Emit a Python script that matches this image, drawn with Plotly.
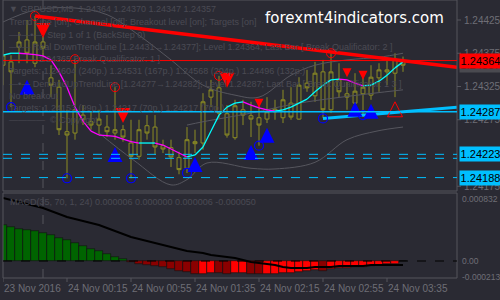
import plotly.graph_objects as go

# ---------------- data ----------------
idx = list(range(-1, 50))
opens = [1.24357, 1.24362, 1.24384, 1.24395, 1.24360, 1.24392, 1.24338, 1.24324, 1.24257, 1.24255,
         1.24282, 1.24272, 1.24267, 1.24264, 1.24255, 1.24260, 1.24240, 1.24220, 1.24266, 1.24264,
         1.24236, 1.24233, 1.24218, 1.24202, 1.24242, 1.24240, 1.24309, 1.24323, 1.24284, 1.24248,
         1.24290, 1.24281, 1.24278, 1.24276, 1.24287, 1.24278, 1.24300, 1.24276, 1.24330, 1.24311,
         1.24347, 1.24290, 1.24335, 1.24314, 1.24300, 1.24314, 1.24312, 1.24338, 1.24350, 1.24345, 1.24364]
closes = [1.24372, 1.24347, 1.24392, 1.24375, 1.24392, 1.24383, 1.24327, 1.24260, 1.24252, 1.24290,
          1.24275, 1.24267, 1.24276, 1.24257, 1.24260, 1.24249, 1.24220, 1.24260, 1.24255, 1.24234,
          1.24231, 1.24219, 1.24200, 1.24245, 1.24239, 1.24302, 1.24320, 1.24285, 1.24252, 1.24296,
          1.24282, 1.24276, 1.24267, 1.24287, 1.24291, 1.24305, 1.24279, 1.24327, 1.24323, 1.24345,
          1.24290, 1.24347, 1.24317, 1.24309, 1.24318, 1.24324, 1.24339, 1.24350, 1.24347, 1.24366, 1.24357]
highs = [1.24395, 1.24372, 1.24407, 1.24425, 1.24431, 1.24405, 1.24357, 1.24335, 1.24290, 1.24366,
         1.24297, 1.24287, 1.24290, 1.24282, 1.24324, 1.24267, 1.24275, 1.24275, 1.24282, 1.24282,
         1.24245, 1.24245, 1.24227, 1.24264, 1.24260, 1.24315, 1.24335, 1.24341, 1.24297, 1.24305,
         1.24305, 1.24302, 1.24300, 1.24309, 1.24305, 1.24320, 1.24324, 1.24339, 1.24350, 1.24362,
         1.24365, 1.24375, 1.24360, 1.24332, 1.24345, 1.24342, 1.24357, 1.24360, 1.24366, 1.24375, 1.24370]
lows = [1.24327, 1.24294, 1.24360, 1.24360, 1.24354, 1.24369, 1.24309, 1.24252, 1.24187, 1.24245,
        1.24267, 1.24260, 1.24252, 1.24249, 1.24245, 1.24242, 1.24187, 1.24215, 1.24245, 1.24222,
        1.24225, 1.24204, 1.24193, 1.24195, 1.24225, 1.24230, 1.24294, 1.24278, 1.24248, 1.24245,
        1.24267, 1.24249, 1.24236, 1.24270, 1.24275, 1.24270, 1.24275, 1.24275, 1.24317, 1.24302,
        1.24278, 1.24285, 1.24309, 1.24290, 1.24293, 1.24279, 1.24305, 1.24317, 1.24327, 1.24309, 1.24347]

ma = [1.24372, 1.24375, 1.24375, 1.24374, 1.24373, 1.24371, 1.24365, 1.24347, 1.24324, 1.24294,
      1.24273, 1.24258, 1.24252, 1.24251, 1.24250, 1.24246, 1.24242, 1.24240, 1.24240, 1.24240,
      1.24237, 1.24231, 1.24225, 1.24219, 1.24222, 1.24234, 1.24258, 1.24282, 1.24294, 1.24300,
      1.24302, 1.24297, 1.24293, 1.24290, 1.24288, 1.24290, 1.24294, 1.24300, 1.24306, 1.24317,
      1.24327, 1.24335, 1.24336, 1.24335, 1.24330, 1.24326, 1.24327, 1.24333, 1.24342, 1.24353, 1.24362]

# gray envelope lines (index, price)
band_up_x = [-1, 3, 8, 12, 16, 20, 24, 28, 31, 35, 38, 42, 46, 49]
band_up_y = [1.24422, 1.24440, 1.24443, 1.24433, 1.24402, 1.24365, 1.24327, 1.24312, 1.24309, 1.24342,
             1.24357, 1.24365, 1.24369, 1.24375]
band_mid_x = [22, 24, 30, 36, 49]
band_mid_y = [1.24267, 1.24272, 1.24285, 1.24300, 1.24320]
band_lo_x = [11, 15.25, 20, 22, 24.5, 30, 33, 38, 42, 45.75, 49]
band_lo_y = [1.24255, 1.24215, 1.24177, 1.24185, 1.24210, 1.24202, 1.24201, 1.24211, 1.24245, 1.24258, 1.24264]

# signals (index, price)
hi_circle_x = [3, 8, 13, 26, 40]
hi_circle_y = [1.24431, 1.24366, 1.24324, 1.24341, 1.24375]
lo_circle_x = [0, 7, 15, 22, 31, 39, 44]
lo_circle_y = [1.24294, 1.24187, 1.24187, 1.24195, 1.24236, 1.24277, 1.24282]
sell_x = [4, 14, 27]
sell_y = [1.24398, 1.24270, 1.24323]
sell_small_x = [31, 42, 44]
sell_small_y = [1.24293, 1.24339, 1.24335]
buy_x = [2, 13, 23, 30, 32, 43, 45]
buy_y = [1.24335, 1.24234, 1.24219, 1.24237, 1.24263, 1.24302, 1.24299]
buy_open_x = [48]
buy_open_y = [1.24302]

# trend lines through two pivots, extended right
down_tl = [(3, 1.24431), (40, 1.24377)]
up_tl = [(39, 1.24277), (44, 1.24282)]
level_red = 1.24364
level_blue = 1.24287
target_levels = [1.24223, 1.24217, 1.24188]
bid_price = 1.24357

price_ticks = [1.24425, 1.24375, 1.24325, 1.24275, 1.24175]

# MACD
hist = [0.000483, 0.000456, 0.000429, 0.000416, 0.000403, 0.000376, 0.000349, 0.000309, 0.000282, 0.000242,
        0.000201, 0.000161, 0.000134, 0.000094, 0.000054, 0.000027,
        -0.000020, -0.000035, -0.000055, -0.000070, -0.000085, -0.000105, -0.000130, -0.000150, -0.000172,
        -0.000168, -0.000160, -0.000164, -0.000170, -0.000165, -0.000160, -0.000172, -0.000180, -0.000175,
        -0.000170, -0.000160, -0.000155, -0.000145, -0.000135, -0.000122, -0.000128, -0.000110, -0.000100,
        -0.000090, -0.000080, -0.000075, -0.000065, -0.000055, -0.000045, -0.000035, 0.000006]
signal = [0.000845, 0.000819, 0.000792, 0.000765, 0.000738, 0.000711, 0.000671, 0.000631, 0.000590, 0.000564,
          0.000537, 0.000510, 0.000483, 0.000443, 0.000403, 0.000362, 0.000322, 0.000295, 0.000268, 0.000242,
          0.000215, 0.000188, 0.000161, 0.000134, 0.000121, 0.000107, 0.000081, 0.000067, 0.000054, 0.000040,
          0.000013, -0.000013, -0.000027, -0.000040, -0.000054, -0.000081, -0.000094, -0.000094, -0.000094,
          -0.000081, -0.000081, -0.000081, -0.000067, -0.000067, -0.000067, -0.000067, -0.000054, -0.000054,
          -0.000054, -0.000054, -0.000054]
macd_ticks = [0.000832, 0.0, -0.000213]
macd_tick_text = ['0.000832', '0.00', '-0.000213']

time_tick_idx = [-1, 7, 15, 23, 31, 39, 47]
time_tick_text = ['23 Nov 2016', '24 Nov 00:15', '24 Nov 00:55', '24 Nov 01:35',
                  '24 Nov 02:15', '24 Nov 02:55', '24 Nov 03:35']
day_sep_idx = 4

overlay_lines = [
    '▼ GBPUSD,M5  1.24364 1.24370 1.24347 1.24357',
    'Trend Line [on]; Channel [off]; Breakout level [on]; Targets [on]',
    '—•—•—  Step 1 of 1 (BackStep 0)',
    '—•— Real DownTrendLine [1.24431→1.24377]; Level 1.24364; Last Bar [ Break Qualificator: 2 ]',
    '——— 1.24365 Break Qualificator: 1 ]',
    'Targets: 1.24604 (240p.) 1.24531 (167p.) 1.24568 (204p.) 1.24496 (132p.)',
    '—•— DemandUpTrendLine [1.24277→1.24282]; Level 1.24287; Last Bar [ Break Qualificator: 1 3 ]',
    'No breakout',
    'Targets: 1.24153 (99p.) 1.24217 (70p.) 1.24217 (70p.)',
    '————  © Copyright',
]

# ---------------- style ----------------
W, H = 500, 300
BG = '#2a2a33'
OLIVE = '#8c8c24'
GRID = '#55555d'
TXT = '#6e6e76'
DIM = '#4a4a53'
CYAN = '#00bfff'
FONT = 'Liberation Sans'

X0, X1 = 3, 457
MAIN_T, MAIN_B = 0, 191
MACD_T, MACD_B = 193, 278
KMIN = -1
KMAX = KMIN + (X1 - X0) / 8.0
PMAX, PMIN = 1.24455075, 1.24167857
VMAX, VMIN = 0.00091275, -0.00022819

def px(x):
    return x / W

def py(y):
    return 1 - y / H

fig = go.Figure()

for bx, by in ((band_up_x, band_up_y), (band_mid_x, band_mid_y), (band_lo_x, band_lo_y)):
    fig.add_trace(go.Scatter(x=bx, y=by, mode='lines', line=dict(color='#56565e', width=1, shape='spline'),
                             xaxis='x', yaxis='y', hoverinfo='skip'))

fig.add_trace(go.Candlestick(x=idx, open=opens, high=highs, low=lows, close=closes,
                             increasing=dict(line=dict(color=OLIVE, width=1), fillcolor=BG),
                             decreasing=dict(line=dict(color=OLIVE, width=1), fillcolor=BG),
                             whiskerwidth=0, xaxis='x', yaxis='y', hoverinfo='skip'))

cx, cy, mx, my = [], [], [], []
for i in range(len(idx) - 1):
    seg_x = [idx[i], idx[i + 1], None]
    seg_y = [ma[i], ma[i + 1], None]
    if ma[i + 1] >= ma[i]:
        cx += seg_x; cy += seg_y
    else:
        mx += seg_x; my += seg_y
fig.add_trace(go.Scatter(x=mx, y=my, mode='lines', line=dict(color='#ff00ff', width=1.3), xaxis='x', yaxis='y'))
fig.add_trace(go.Scatter(x=cx, y=cy, mode='lines', line=dict(color='#00ffff', width=1.3), xaxis='x', yaxis='y'))

def extend(tl):
    (k0, p0), (k1, p1) = tl
    slope = (p1 - p0) / (k1 - k0)
    return [k0, KMAX], [p0, p0 + slope * (KMAX - k0)]

tx, ty = extend(down_tl)
fig.add_trace(go.Scatter(x=tx, y=ty, mode='lines', line=dict(color='#ff0000', width=3.5), xaxis='x', yaxis='y'))
tx, ty = extend(up_tl)
fig.add_trace(go.Scatter(x=tx, y=ty, mode='lines', line=dict(color=CYAN, width=3), xaxis='x', yaxis='y'))

fig.add_trace(go.Scatter(x=hi_circle_x, y=hi_circle_y, mode='markers',
                         marker=dict(symbol='circle-open', size=9, color='#ff0000', line=dict(width=1)),
                         xaxis='x', yaxis='y'))
fig.add_trace(go.Scatter(x=lo_circle_x, y=lo_circle_y, mode='markers',
                         marker=dict(symbol='circle-open', size=9, color='#0000ff', line=dict(width=1.2)),
                         xaxis='x', yaxis='y'))
fig.add_trace(go.Scatter(x=sell_x, y=sell_y, mode='markers',
                         marker=dict(symbol='arrow-down', size=15, color='#ff0000'), xaxis='x', yaxis='y'))
fig.add_trace(go.Scatter(x=sell_small_x, y=sell_small_y, mode='markers',
                         marker=dict(symbol='arrow-down', size=9, color='#ff0000'), xaxis='x', yaxis='y'))
fig.add_trace(go.Scatter(x=buy_x, y=buy_y, mode='markers',
                         marker=dict(symbol='arrow-up', size=15, color='#0000ff'), xaxis='x', yaxis='y'))
fig.add_trace(go.Scatter(x=buy_open_x, y=buy_open_y, mode='markers',
                         marker=dict(symbol='arrow-up-open', size=15, color='#ff0000', line=dict(width=1)),
                         xaxis='x', yaxis='y'))

cols = []
for i, v in enumerate(hist):
    prev = hist[i - 1] if i > 0 else v
    if v >= 0:
        cols.append('#00ff00' if v > prev else '#006400')
    else:
        cols.append('#ff0000' if v > prev else '#8b0000')
fig.add_trace(go.Bar(x=idx, y=hist, marker=dict(color=cols, line=dict(color='#111111', width=0.6)),
                     width=1.0, xaxis='x2', yaxis='y2'))
fig.add_trace(go.Scatter(x=idx, y=signal, mode='lines', line=dict(color='#000000', width=2),
                         xaxis='x2', yaxis='y2'))

shapes = []
shapes.append(dict(type='rect', xref='paper', yref='paper', x0=px(X0), x1=px(X1), y0=py(MAIN_B), y1=py(MAIN_T),
                   line=dict(color=GRID, width=1)))
shapes.append(dict(type='rect', xref='paper', yref='paper', x0=px(X0), x1=px(X1), y0=py(MACD_B), y1=py(MACD_T),
                   line=dict(color=GRID, width=1)))
shapes.append(dict(type='line', xref='x', yref='paper', x0=day_sep_idx, x1=day_sep_idx, y0=py(MACD_B), y1=py(MAIN_T),
                   line=dict(color='#55555d', width=1, dash='dash'), layer='below'))
shapes.append(dict(type='line', xref='paper', yref='y', x0=px(X0), x1=px(X1), y0=level_red, y1=level_red,
                   line=dict(color='#ff0000', width=1)))
shapes.append(dict(type='line', xref='paper', yref='y', x0=px(X0), x1=px(X1), y0=level_blue, y1=level_blue,
                   line=dict(color=CYAN, width=1.5)))
for lv in target_levels:
    shapes.append(dict(type='line', xref='paper', yref='y', x0=px(X0), x1=px(X1), y0=lv, y1=lv,
                       line=dict(color=CYAN, width=1, dash='dash')))
shapes.append(dict(type='line', xref='paper', yref='y2', x0=px(X0), x1=px(X1), y0=0, y1=0,
                   line=dict(color='#000000', width=1, dash='dash')))
for k in time_tick_idx:
    shapes.append(dict(type='line', xref='x2', yref='paper', x0=k, x1=k, y0=py(MACD_B), y1=py(MACD_B + 4),
                       line=dict(color=GRID, width=1)))
for p in price_ticks:
    shapes.append(dict(type='line', xref='paper', yref='y', x0=px(X1), x1=px(X1 + 4), y0=p, y1=p,
                       line=dict(color=GRID, width=1)))

ann = []
for p in price_ticks:
    ann.append(dict(xref='paper', yref='y', x=px(X1 + 5), y=p, text=f'{p:.5f}', showarrow=False,
                    xanchor='left', yanchor='middle', font=dict(family=FONT, size=10, color=TXT)))
for v, t in zip(macd_ticks, macd_tick_text):
    ann.append(dict(xref='paper', yref='y2', x=px(X1 + 3), y=v, text=t, showarrow=False,
                    xanchor='left', yanchor='middle', font=dict(family=FONT, size=8.5, color=TXT)))

def plabel(val, bg, fg='#000000'):
    return dict(xref='paper', yref='y', x=px(X1 + 2), y=val, text=f'{val:.5f}', showarrow=False,
                xanchor='left', yanchor='middle', bgcolor=bg, borderpad=1, width=39, align='center',
                font=dict(family=FONT, size=11, color=fg))
ann.append(plabel(bid_price, '#4a4a50', '#2a2a33'))
ann.append(plabel(level_red, '#ff0000'))
ann.append(plabel(level_blue, CYAN))
ann.append(plabel(target_levels[0], CYAN))
ann.append(plabel(target_levels[2], CYAN))

for k, t in zip(time_tick_idx, time_tick_text):
    ann.append(dict(xref='x2', yref='paper', x=k, y=py(288), text=t, showarrow=False,
                    xanchor='left', yanchor='middle', xshift=-1, font=dict(family=FONT, size=10, color=TXT)))

ys = [9, 22, 35, 47, 59, 71, 84, 96, 108, 120]
for y, t in zip(ys, overlay_lines):
    ann.append(dict(xref='paper', yref='paper', x=px(7), y=py(y), text=t, showarrow=False,
                    xanchor='left', yanchor='middle', font=dict(family=FONT, size=9, color=DIM)))
ann.append(dict(xref='paper', yref='paper', x=px(8), y=py(202),
                text='MACD(35, 70, 1, 24) 0.000006 0.000000 0.000006 -0.000050', showarrow=False,
                xanchor='left', yanchor='middle', font=dict(family=FONT, size=9, color=DIM)))
ann.append(dict(xref='paper', yref='paper', x=px(263), y=py(18), text='forexmt4indicators.com', showarrow=False,
                xanchor='left', yanchor='middle', font=dict(family='DejaVu Sans', size=15, color='#ffffff')))

axis_common = dict(showgrid=False, zeroline=False, showticklabels=False, showline=False, ticks='')
fig.update_layout(
    width=W, height=H, margin=dict(l=0, r=0, t=0, b=0),
    paper_bgcolor=BG, plot_bgcolor=BG, showlegend=False, bargap=0,
    xaxis=dict(domain=[px(X0), px(X1)], range=[KMIN, KMAX], anchor='y', rangeslider=dict(visible=False), **axis_common),
    yaxis=dict(domain=[py(MAIN_B), py(MAIN_T)], range=[PMIN, PMAX], anchor='x', **axis_common),
    xaxis2=dict(domain=[px(X0), px(X1)], range=[KMIN, KMAX], anchor='y2', matches='x', **axis_common),
    yaxis2=dict(domain=[py(MACD_B), py(MACD_T)], range=[VMIN, VMAX], anchor='x2', **axis_common),
    shapes=shapes, annotations=ann,
)

fig.write_html('out.html')
